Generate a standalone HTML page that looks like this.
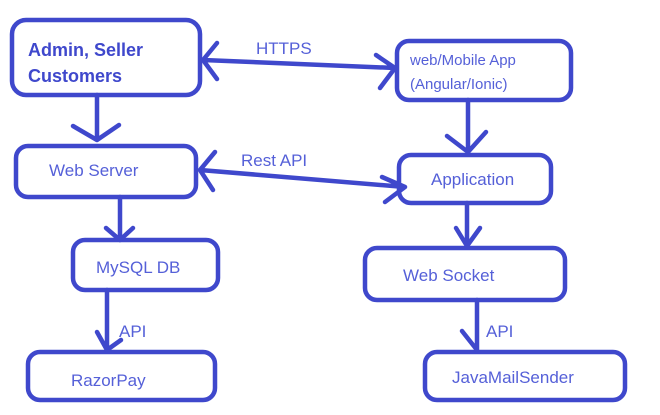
<!DOCTYPE html>
<html><head><style>body{margin:0;background:#fff}</style></head><body>
<svg width="660" height="410" xmlns="http://www.w3.org/2000/svg" font-family="Liberation Sans, sans-serif">
<g fill="none" stroke="#3f48cc" stroke-width="4.5" stroke-linecap="round" stroke-linejoin="round">
<rect x="12" y="20" width="188" height="75" rx="14"/>
<rect x="16" y="146" width="180" height="51" rx="12"/>
<rect x="73" y="240" width="145" height="50" rx="12"/>
<rect x="28" y="352" width="187" height="48" rx="12"/>
<rect x="397" y="41" width="174" height="59" rx="12"/>
<rect x="399" y="155" width="152" height="48" rx="12"/>
<rect x="365" y="248" width="200" height="52" rx="12"/>
<rect x="425" y="352" width="200" height="48" rx="12"/>
<path d="M97 95V140M73 126L97 140L119 125"/>
<path d="M120 197V240M106 228L120 240L133 228"/>
<path d="M107 290V350M97 332L107 350M107 350L121 340"/>
<path d="M468 100V152M447 136L468 152L486 132"/>
<path d="M467 203V246M456 228L467 246L480 228"/>
<path d="M477 300V350M462 331L477 350"/>
<path d="M203 60L395 68M217 43L203 60L217 79M376 55L395 68L380 88"/>
<path d="M200 170L405 187M215 152L200 170L213 190M382 177L405 187L385 202"/>
</g>
<g fill="#3f48cc">
<text x="28" y="56" font-size="18" font-weight="bold">Admin, Seller</text>
<text x="28" y="82" font-size="18" font-weight="bold">Customers</text>
</g>
<g fill="#5560d8" font-size="17">
<text x="49" y="176">Web Server</text>
<text x="96" y="273">MySQL DB</text>
<text x="71" y="386">RazorPay</text>
<text x="410" y="65" font-size="15">web/Mobile App</text>
<text x="410" y="89" font-size="15">(Angular/Ionic)</text>
<text x="431" y="185">Application</text>
<text x="403" y="281">Web Socket</text>
<text x="452" y="383">JavaMailSender</text>
<text x="256" y="54">HTTPS</text>
<text x="241" y="166">Rest API</text>
<text x="119" y="337">API</text>
<text x="486" y="337">API</text>
</g>
</svg>
</body></html>
